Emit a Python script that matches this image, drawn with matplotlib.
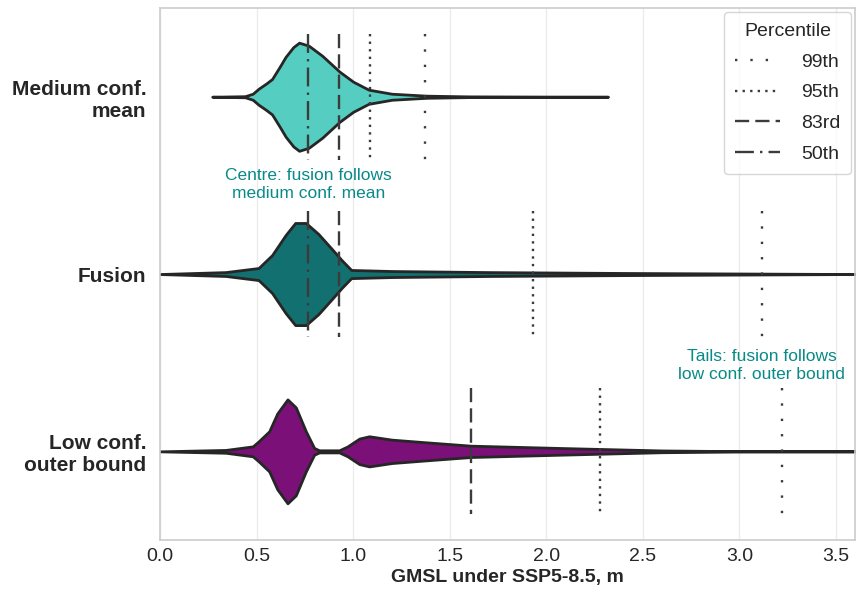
import numpy as np
import matplotlib
matplotlib.use("Agg")
import matplotlib.pyplot as plt
from matplotlib.lines import Line2D

plt.rcParams["font.family"] = ["Liberation Sans", "DejaVu Sans"]
plt.rcParams["text.color"] = "#262626"
plt.rcParams["xtick.color"] = "#262626"
plt.rcParams["ytick.color"] = "#262626"
plt.rcParams["axes.labelcolor"] = "#262626"

# categories (top to bottom)
categories = ["Medium conf.\nmean", "Fusion", "Low conf.\nouter bound"]
colors = ["#55cec1", "#137070", "#7b1079"]

# violin outlines: GMSL (m) and half width (category units)
med_x = [0.27, 0.44, 0.48, 0.51, 0.55, 0.58, 0.62, 0.65, 0.69, 0.72, 0.77, 0.84, 0.93, 1.00, 1.08, 1.20, 1.38, 1.60, 2.32]
med_w = [0.0, 0.003, 0.017, 0.045, 0.075, 0.10, 0.17, 0.225, 0.28, 0.305, 0.288, 0.231, 0.141, 0.085, 0.04, 0.017, 0.006, 0.002, 0.0]

fus_x = [0.0, 0.34, 0.51, 0.58, 0.65, 0.70, 0.755, 0.82, 0.89, 0.94, 0.99, 1.20, 1.70, 2.40, 3.60]
fus_w = [0.0, 0.011, 0.034, 0.107, 0.22, 0.288, 0.288, 0.226, 0.141, 0.079, 0.023, 0.017, 0.011, 0.006, 0.0]

low_x = [0.0, 0.34, 0.48, 0.51, 0.565, 0.607, 0.66, 0.703, 0.755, 0.798, 0.824, 0.928, 0.971, 1.032, 1.083, 1.20, 1.377, 1.61, 2.07, 2.60, 3.00, 3.60]
low_w = [0.0, 0.008, 0.028, 0.056, 0.113, 0.214, 0.293, 0.248, 0.113, 0.019, 0.006, 0.006, 0.028, 0.072, 0.085, 0.066, 0.051, 0.032, 0.019, 0.005, 0.001, 0.0]

violins = [(med_x, med_w), (fus_x, fus_w), (low_x, low_w)]

# percentiles per category: 99th, 95th, 83rd, 50th (None = not shown)
pct_labels = ["99th", "95th", "83rd", "50th"]
med_pct = [1.372, 1.089, 0.928, 0.767]
fus_pct = [3.116, 1.934, 0.928, 0.767]
low_pct = [3.22, 2.276, 1.61, None]
pct_values = [med_pct, fus_pct, low_pct]
pct_styles = [(0, (1, 5.5)), (0, (1, 2.2)), (0, (6, 2.6)), (0, (8, 2.6, 1, 2.6))]

fig = plt.figure(figsize=(8.56, 5.99), dpi=100)
ax = fig.add_axes([0.187, 0.0985, 0.812, 0.888])

for i, (xs, ws) in enumerate(violins):
    xs = np.array(xs)
    ws = np.array(ws)
    ax.fill_between(xs, i - ws, i + ws, facecolor=colors[i], edgecolor="#262626",
                    linewidth=2.0, zorder=2)

line_col = "#3b3b3b"
for i, vals in enumerate(pct_values):
    for v, ls in zip(vals, pct_styles):
        if v is None:
            continue
        ax.plot([v, v], [i - 0.355, i + 0.355], color=line_col, linestyle=ls,
                linewidth=1.7, zorder=3)

ax.text(0.767, 0.495, "Centre: fusion follows\nmedium conf. mean", color="#088a88",
        fontsize=12.5, ha="center", va="center", linespacing=1.25)
ax.text(3.115, 1.515, "Tails: fusion follows\nlow conf. outer bound", color="#088a88",
        fontsize=12.5, ha="center", va="center", linespacing=1.25)

ax.set_xlim(0, 3.6)
ax.set_ylim(2.5, -0.5)
ax.set_xticks(np.arange(0, 3.6, 0.5))
ax.set_yticks(range(len(categories)))
ax.set_yticklabels(categories, fontweight="bold", fontsize=15)
ax.tick_params(axis="x", labelsize=14, length=0, pad=6)
ax.tick_params(axis="y", length=0, pad=10)
ax.set_xlabel("GMSL under SSP5-8.5, m", fontweight="bold", fontsize=14, labelpad=3)
ax.grid(axis="x", color="#ebebeb", linewidth=1)
ax.set_axisbelow(True)
for s in ax.spines.values():
    s.set_color("#cccccc")
    s.set_linewidth(1.2)

handles = [Line2D([0], [0], color=line_col, linestyle=ls, linewidth=1.7) for ls in pct_styles]
leg = ax.legend(handles, pct_labels, title="Percentile", loc="upper right", fontsize=14,
                title_fontsize=14, frameon=True, handlelength=2.3, borderpad=0.55,
                labelspacing=0.68, handletextpad=1.1, borderaxespad=0.2)
leg.get_frame().set_edgecolor("#cccccc")

fig.savefig("out.png", dpi=100)
